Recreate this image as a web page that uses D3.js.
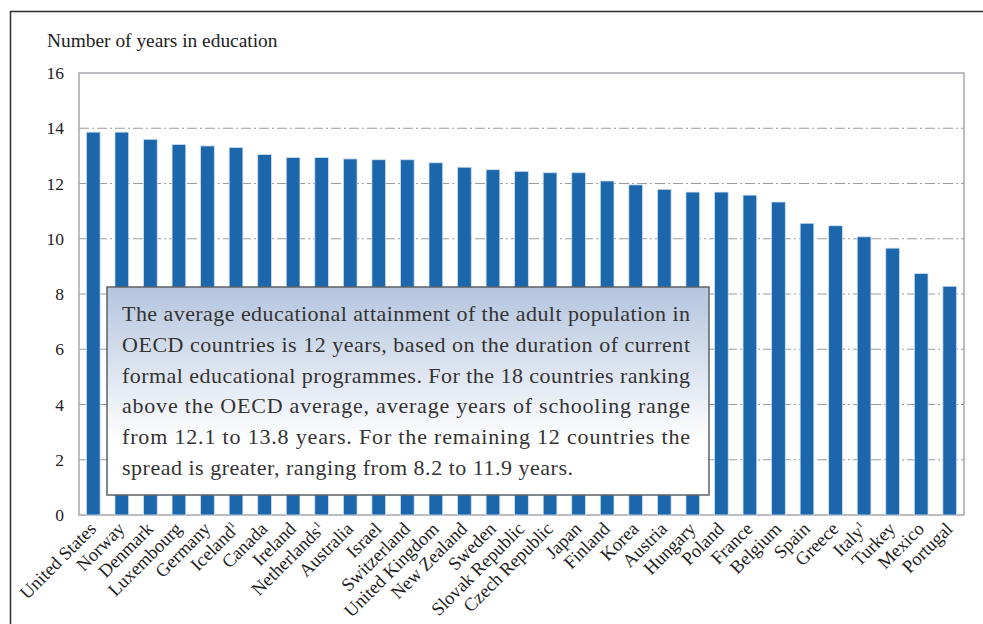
<!DOCTYPE html>
<html>
<head>
<meta charset="utf-8">
<script src="https://cdn.jsdelivr.net/npm/d3@7"></script>
<style>
  html, body { margin: 0; padding: 0; background: #fff; }
  svg { display: block; }
</style>
</head>
<body>
<div id="chart"></div>
<script>
// countries, in chart order; footnoted ones carry a superscript 1
var countries = ['United States', 'Norway', 'Denmark', 'Luxembourg', 'Germany', 'Iceland',
  'Canada', 'Ireland', 'Netherlands', 'Australia', 'Israel', 'Switzerland', 'United Kingdom',
  'New Zealand', 'Sweden', 'Slovak Republic', 'Czech Republic', 'Japan', 'Finland', 'Korea',
  'Austria', 'Hungary', 'Poland', 'France', 'Belgium', 'Spain', 'Greece', 'Italy', 'Turkey',
  'Mexico', 'Portugal'];
var footnoted = ['Iceland', 'Netherlands', 'Italy'];

var years = [13.86, 13.86, 13.6, 13.41, 13.36, 13.3, 13.05, 12.94, 12.94, 12.89, 12.86, 12.86,
  12.75, 12.59, 12.5, 12.44, 12.39, 12.39, 12.09, 11.95, 11.79, 11.69, 11.69, 11.58, 11.33,
  10.56, 10.47, 10.07, 9.66, 8.74, 8.28];

var yTicks = [0, 2, 4, 6, 8, 10, 12, 14, 16];
var yTitle = 'Number of years in education';

var noteLines = [
  'The average educational attainment of the adult population in',
  'OECD countries is 12 years, based on the duration of current',
  'formal educational programmes. For the 18 countries ranking',
  'above the OECD average, average years of schooling range',
  'from 12.1 to 13.8 years. For the remaining 12 countries the',
  'spread is greater, ranging from 8.2 to 11.9 years.'
];

var W = 983, H = 624
  , FONT = "'Liberation Serif'"
  , plot = { left: 79, right: 964, top: 73, bottom: 515 }
  , rows = countries.map(function (c, i) { return { name: c, value: years[i] }; })
  , svg, x, y, defs, grad, box;

svg = d3.select('#chart').append('svg')
  .attr('width', W)
  .attr('height', H);

// outer frame (only top and left edges show)
svg.append('path')
  .attr('d', 'M10.5,' + H + 'V11.5H' + W)
  .attr('fill', 'none')
  .attr('stroke', '#2e2e2e')
  .attr('stroke-width', 1.5);

x = d3.scaleBand()
  .domain(countries)
  .range([plot.left, plot.right])
  .paddingInner(0.52)
  .paddingOuter(0.26);

y = d3.scaleLinear()
  .domain([0, 16])
  .range([plot.bottom, plot.top]);

// dashed grid lines
svg.append('g')
  .selectAll('line')
  .data(yTicks.filter(function (t) { return t > 0 && t < 16; }))
  .enter()
    .append('line')
    .attr('x1', plot.left)
    .attr('x2', plot.right)
    .attr('y1', function (d) { return y(d); })
    .attr('y2', function (d) { return y(d); })
    .attr('stroke', '#9c9c9c')
    .attr('stroke-width', 1.2)
    .attr('stroke-dasharray', '10,3,2,3');

// plot border
svg.append('rect')
  .attr('x', plot.left)
  .attr('y', plot.top)
  .attr('width', plot.right - plot.left)
  .attr('height', plot.bottom - plot.top)
  .attr('fill', 'none')
  .attr('stroke', '#a4a8ac')
  .attr('stroke-width', 1.5);

// y axis labels
var yAxis = d3.axisLeft(y).tickValues(yTicks).tickSize(0).tickPadding(15);
svg.append('g')
  .attr('transform', 'translate(' + plot.left + ',0)')
  .call(yAxis)
  .attr('font-family', null)
  .attr('font-size', null)
  .call(function (g) {
    g.select('.domain').remove();
    g.selectAll('text')
      .style('font-family', FONT)
      .style('font-size', '17.5px')
      .attr('fill', '#222');
  });

svg.append('text')
  .attr('x', 47)
  .attr('y', 47)
  .style('font-family', FONT)
  .style('font-size', '19.4px')
  .attr('fill', '#222')
  .text(yTitle);

// bars
svg.append('g')
  .selectAll('rect')
  .data(rows)
  .enter()
    .append('rect')
    .attr('x', function (d) { return x(d.name); })
    .attr('y', function (d) { return y(d.value); })
    .attr('width', x.bandwidth())
    .attr('height', function (d) { return y(0) - y(d.value); })
    .attr('fill', '#1c66ab')
    .attr('stroke', '#cfe0f1')
    .attr('stroke-width', 0.8);

// x labels, rotated
var lab = svg.append('g')
  .selectAll('text')
  .data(rows)
  .enter()
    .append('text')
    .attr('transform', function (d) {
      return 'translate(' + (x(d.name) + x.bandwidth() / 2 + 4) + ',530) rotate(-45)';
    })
    .attr('text-anchor', 'end')
    .style('font-family', FONT)
    .style('font-size', '18.5px')
    .attr('fill', '#222');

lab.append('tspan').text(function (d) { return d.name; });
lab.filter(function (d) { return footnoted.indexOf(d.name) >= 0; })
  .append('tspan')
    .style('font-size', '10px')
    .attr('dy', -7)
    .text('1');

// text box
defs = svg.append('defs');
grad = defs.append('linearGradient')
  .attr('id', 'boxFill')
  .attr('x1', 0).attr('y1', 0).attr('x2', 0).attr('y2', 1);
grad.append('stop').attr('offset', '0%').attr('stop-color', '#b4c5de');
grad.append('stop').attr('offset', '75%').attr('stop-color', '#ffffff');
grad.append('stop').attr('offset', '100%').attr('stop-color', '#ffffff');

box = { x: 107, y: 287, w: 602, h: 208 };

svg.append('rect')
  .attr('x', box.x)
  .attr('y', box.y)
  .attr('width', box.w)
  .attr('height', box.h)
  .attr('fill', 'url(#boxFill)')
  .attr('stroke', '#5e6266')
  .attr('stroke-width', 1.5);

svg.append('g')
  .selectAll('text')
  .data(noteLines)
  .enter()
    .append('text')
    .attr('x', 122)
    .attr('y', function (d, i) { return 321 + i * 30.8; })
    .style('font-family', FONT)
    .style('font-size', '22px')
    .attr('fill', '#333')
    // lines are justified to the box; the last one is shorter
    .attr('textLength', function (d, i) { return i < noteLines.length - 1 ? 568 : 451; })
    .attr('lengthAdjust', 'spacing')
    .text(function (d) { return d; });
</script>
</body>
</html>
